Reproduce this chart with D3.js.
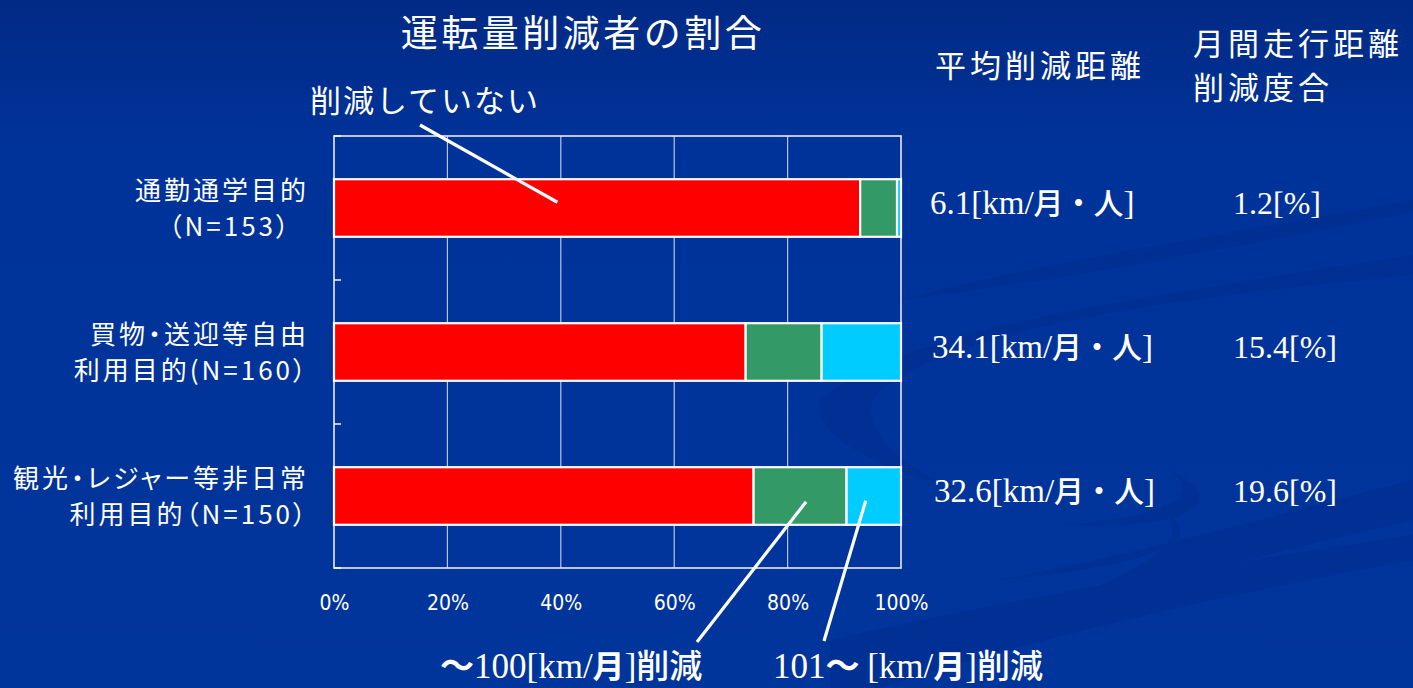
<!DOCTYPE html>
<html>
<head>
<meta charset="utf-8">
<script src="https://cdn.jsdelivr.net/npm/d3@7"></script>
<style>
  html, body { margin: 0; padding: 0; background: #00339a; }
  svg { display: block; }
  .palt { font-feature-settings: "palt"; }
</style>
</head>
<body>
<svg id="chart" width="1413" height="688"></svg>
<script>
// Purpose categories (two-line labels)
const categoryLine1 = ["通勤通学目的", "買物・送迎等自由", "観光・レジャー等非日常"];
const categoryLine2 = ["（N=153）", "利用目的(N=160）", "利用目的（N=150）"];
const categories = ["commute", "shopping", "leisure"];

// Share of drivers (%) by amount of reduction
const noReduction = [92.8, 72.6, 74.0];
const upTo100 = [6.5, 13.4, 16.4];
const over101 = [0.7, 14.0, 9.6];

// Side columns
const avgReduction = ["6.1", "34.1", "32.6"];
const reductionRate = ["1.2", "15.4", "19.6"];

const xTicks = [0, 20, 40, 60, 80, 100];
const seriesColors = ["#ff0000", "#339966", "#00ccff"];

const W = 1413, H = 688;
const svg = d3.select("#chart");
const SANS = "'Noto Sans CJK JP', 'Noto Sans', sans-serif";
const SERIF = "'Liberation Serif', 'DejaVu Serif', serif";
const NARROW = "'DejaVu Sans Condensed', 'Liberation Sans Narrow', 'Noto Sans', sans-serif";

// ---- background ----
const defs = svg.append("defs");
const bg = defs.append("linearGradient").attr("id", "bg").attr("x1", 0).attr("y1", 0).attr("x2", 0).attr("y2", 1);
bg.append("stop").attr("offset", "0%").attr("stop-color", "#012a85");
bg.append("stop").attr("offset", "22%").attr("stop-color", "#00339a");
bg.append("stop").attr("offset", "100%").attr("stop-color", "#00359c");
svg.append("rect").attr("width", W).attr("height", H).attr("fill", "url(#bg)");

// decorative swooshes on the right side
const sw = svg.append("g").attr("fill", "#002d8c").attr("opacity", 0.5);
sw.append("path").attr("d", "M820,400 C900,330 1120,300 1413,255 L1413,275 C1150,300 960,330 880,390 C850,420 900,470 960,490 C890,470 810,440 820,400 Z");
sw.append("path").attr("d", "M900,300 C1050,260 1250,230 1413,200 L1413,212 C1250,245 1060,280 900,300 Z");
sw.append("path").attr("d", "M1000,580 C1200,540 1330,500 1413,480 L1413,520 C1300,545 1180,580 1060,600 C1180,560 1200,520 1140,500 C1200,520 1220,560 1000,580 Z");
sw.append("path").attr("d", "M830,640 C1050,590 1250,560 1413,535 L1413,560 C1250,590 1060,630 880,688 L830,688 Z");
sw.append("path").attr("d", "M1060,525 C1150,520 1210,500 1170,470 C1230,500 1200,530 1060,525 Z");

// ---- plot area ----
const plot = { left: 334, right: 901, top: 136, bottom: 568 };
const x = d3.scaleLinear().domain([0, 100]).range([plot.left, plot.right]);
const y = d3.scaleBand().domain(categories).range([plot.top, plot.bottom])
  .paddingInner(0.6).paddingOuter(0.3);

// vertical gridlines
svg.append("g").selectAll("line").data(xTicks.filter(d => d > 0 && d < 100)).join("line")
  .attr("x1", d => x(d)).attr("x2", d => x(d))
  .attr("y1", plot.top).attr("y2", plot.bottom)
  .attr("stroke", "#b9c3df").attr("stroke-width", 1.2);

// plot border
svg.append("rect")
  .attr("x", plot.left).attr("y", plot.top)
  .attr("width", plot.right - plot.left).attr("height", plot.bottom - plot.top)
  .attr("fill", "none").attr("stroke", "#e8ecf6").attr("stroke-width", 1.6);

// category boundary ticks (inside)
const boundaries = d3.range(categories.length + 1).map(i => plot.top + i * (plot.bottom - plot.top) / categories.length);
svg.append("g").selectAll("line").data(boundaries).join("line")
  .attr("x1", plot.left).attr("x2", plot.left + 7)
  .attr("y1", d => d).attr("y2", d => d)
  .attr("stroke", "#ffffff").attr("stroke-width", 1.4);

// stacked bars
const rows = categories.map((c, i) => ({ key: c, v: [noReduction[i], upTo100[i], over101[i]] }));
const barG = svg.append("g");
rows.forEach(r => {
  let acc = 0;
  r.v.forEach((v, j) => {
    barG.append("rect")
      .attr("x", x(acc)).attr("y", y(r.key))
      .attr("width", x(acc + v) - x(acc)).attr("height", y.bandwidth())
      .attr("fill", seriesColors[j])
      .attr("stroke", "#ffffff").attr("stroke-width", 2.2);
    acc += v;
  });
});

// x axis labels
const xAxis = d3.axisBottom(x).tickValues(xTicks).tickFormat(d => d + "%").tickSize(0).tickPadding(40);
const ax = svg.append("g").attr("transform", `translate(0,${plot.bottom})`).call(xAxis);
ax.select(".domain").remove();
ax.selectAll("text").attr("fill", "#ffffff").attr("font-family", NARROW)
  .attr("font-size", 21).attr("dy", "0.1em");

// category labels
const catG = svg.append("g").attr("fill", "#ffffff").attr("font-family", SANS)
  .attr("font-size", 26).attr("text-anchor", "end").attr("letter-spacing", 3).attr("class", "palt");
categories.forEach((c, i) => {
  const cy = y(c) + y.bandwidth() / 2;
  catG.append("text").attr("x", 309).attr("y", cy - 8).text(categoryLine1[i]);
  catG.append("text").attr("x", i === 0 ? 292 : 309).attr("y", cy + 28).text(categoryLine2[i]);
});

// title and callout
svg.append("text").attr("x", 583).attr("y", 47).attr("text-anchor", "middle")
  .attr("fill", "#fff").attr("font-family", SANS).attr("font-size", 37).attr("letter-spacing", 3.5)
  .text("運転量削減者の割合");
svg.append("text").attr("x", 425).attr("y", 112).attr("text-anchor", "middle")
  .attr("fill", "#fff").attr("font-family", SANS).attr("font-size", 31).attr("letter-spacing", 2)
  .text("削減していない");

// leader lines
const lastRow = rows[2];
function segMid(row, j) {
  const start = d3.sum(row.v.slice(0, j));
  return x(start + row.v[j] / 2);
}
svg.append("g").attr("stroke", "#fff").attr("stroke-width", 3.2).attr("stroke-linecap", "butt")
  .selectAll("line").data([
    { x1: 420, y1: 125, x2: x(39.4), y2: y(categories[0]) + y.bandwidth() * 0.4 },
    { x1: 697, y1: 642, x2: segMid(lastRow, 1) + 6, y2: y(categories[2]) + y.bandwidth() * 0.6 },
    { x1: 824, y1: 641, x2: segMid(lastRow, 2) - 8, y2: y(categories[2]) + y.bandwidth() * 0.58 }
  ]).join("line")
  .attr("x1", d => d.x1).attr("y1", d => d.y1).attr("x2", d => d.x2).attr("y2", d => d.y2);

// mixed serif / sans text
function mixed(parent, xPos, yPos, parts, anchor) {
  const t = parent.append("text").attr("x", xPos).attr("y", yPos).attr("fill", "#fff")
    .attr("text-anchor", anchor || "start");
  parts.forEach(p => {
    t.append("tspan").attr("font-family", p.sans ? SANS : SERIF)
      .attr("font-size", p.size).attr("font-weight", p.bold || 400).text(p.t);
  });
  return t;
}

// legend captions
mixed(svg, 440, 678, [
  { t: "～", sans: true, size: 34, bold: 700 },
  { t: "100[km/", size: 35 },
  { t: "月", sans: true, size: 32, bold: 700 },
  { t: "]", size: 35 },
  { t: "削減", sans: true, size: 33, bold: 500 }
]);
mixed(svg, 773, 678, [
  { t: "101", size: 35 },
  { t: "～ ", sans: true, size: 34, bold: 700 },
  { t: "[km/", size: 35 },
  { t: "月", sans: true, size: 32, bold: 700 },
  { t: "]", size: 35 },
  { t: "削減", sans: true, size: 33, bold: 500 }
]);

// side column headers
const hdr = svg.append("g").attr("fill", "#fff").attr("font-family", SANS).attr("font-size", 31).attr("letter-spacing", 4);
hdr.append("text").attr("x", 935).attr("y", 77).text("平均削減距離");
hdr.append("text").attr("x", 1193).attr("y", 55).text("月間走行距離");
hdr.append("text").attr("x", 1193).attr("y", 99).text("削減度合");

// side column values
const avgX = [930, 932, 934];
categories.forEach((c, i) => {
  const cy = y(c) + y.bandwidth() / 2 + 6;
  mixed(svg, avgX[i], cy, [
    { t: avgReduction[i] + "[km/", size: 33 },
    { t: "月・人", sans: true, size: 30, bold: 500 },
    { t: "]", size: 33 }
  ]);
  mixed(svg, 1233, cy, [
    { t: reductionRate[i] + "[%]", size: 32 }
  ]);
});
</script>
</body>
</html>
